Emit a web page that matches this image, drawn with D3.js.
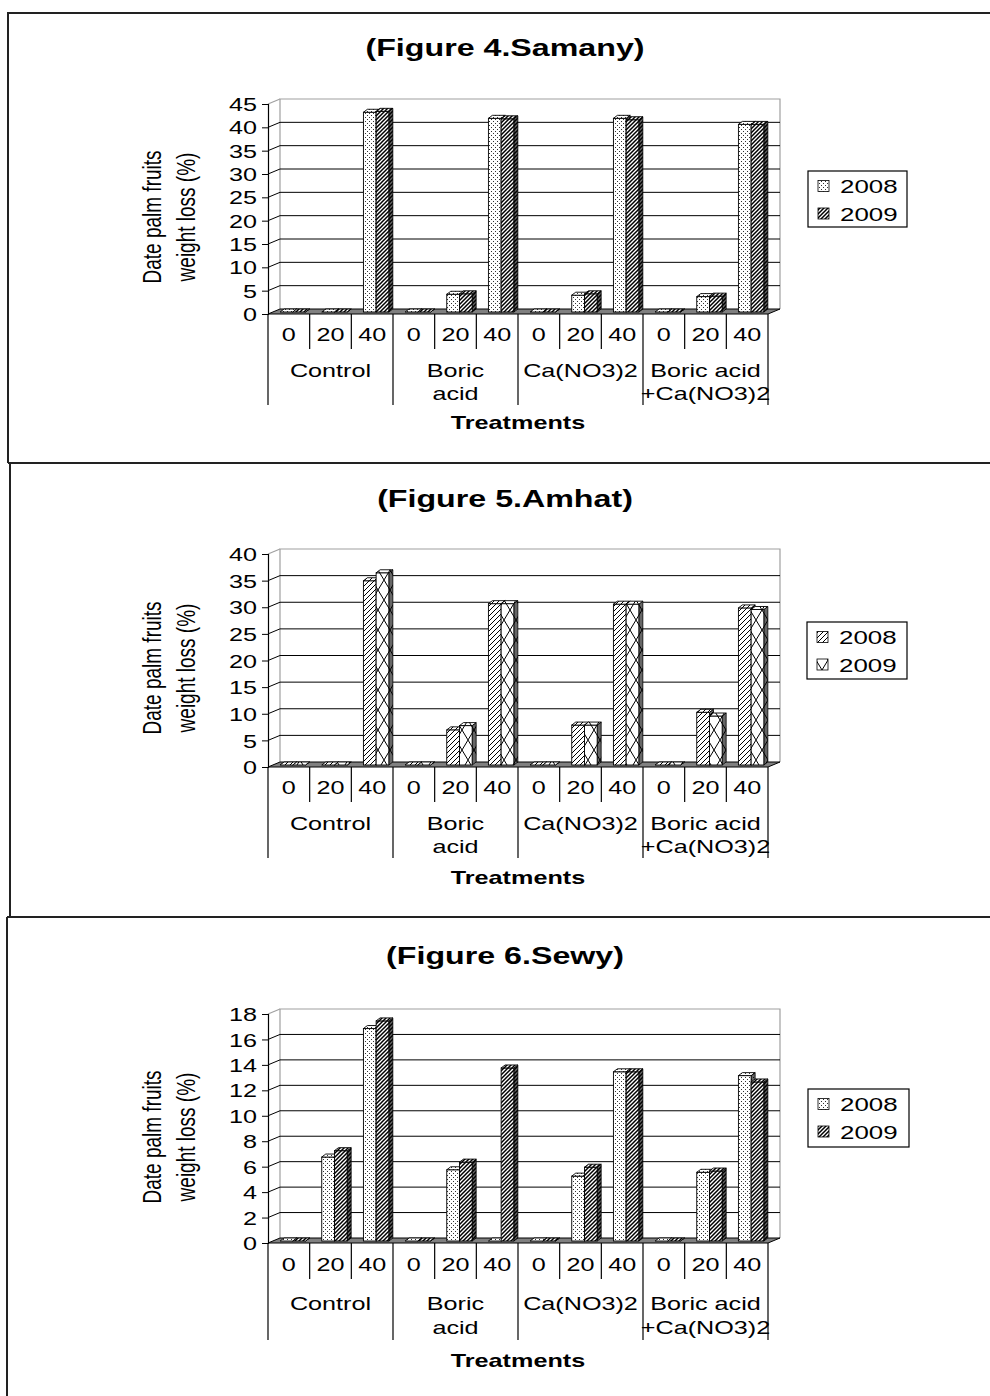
<!DOCTYPE html>
<html>
<head>
<meta charset="utf-8">
<script src="https://cdn.jsdelivr.net/npm/d3@7"></script>
<style>
  html, body { margin: 0; padding: 0; background: #fff; }
  svg { display: block; }
  text { font-family: "Liberation Sans", Arial, sans-serif; fill: #000; }
</style>
</head>
<body>
<svg id="fig" width="990" height="1396"></svg>
<script>
// ---- data ----
const levels = ["0", "20", "40"];
const treatments = [["Control"], ["Boric", "acid"], ["Ca(NO3)2"], ["Boric acid", "+Ca(NO3)2"]];
const seriesNames = ["2008", "2009"];

// Figure 4 – Samany (12 bars per year: 4 treatments x 3 levels)
const samanyTicks = [0, 5, 10, 15, 20, 25, 30, 35, 40, 45];
const samany2008 = [0, 0, 42.8, 0, 3.8, 41.5, 0, 3.6, 41.5, 0, 3.3, 40.2];
const samany2009 = [0, 0, 43.0, 0, 3.9, 41.4, 0, 3.9, 41.2, 0, 3.4, 40.2];

// Figure 5 – Amhat
const amhatTicks = [0, 5, 10, 15, 20, 25, 30, 35, 40];
const amhat2008 = [0, 0, 34.6, 0, 6.6, 30.3, 0, 7.5, 30.2, 0, 9.9, 29.5];
const amhat2009 = [0, 0, 36.1, 0, 7.4, 30.3, 0, 7.5, 30.2, 0, 9.2, 29.2];

// Figure 6 – Sewy
const sewyTicks = [0, 2, 4, 6, 8, 10, 12, 14, 16, 18];
const sewy2008 = [0, 6.6, 16.7, 0, 5.6, 0, 0, 5.1, 13.3, 0, 5.4, 13.0];
const sewy2009 = [0, 7.1, 17.3, 0, 6.2, 13.6, 0, 5.8, 13.3, 0, 5.5, 12.5];

// ---- drawing ----
const SX = 1.4;            // horizontal text stretch
const svg = d3.select("#fig");
const defs = svg.append("defs");

function pattern(id, w, h, draw) {
  const p = defs.append("pattern").attr("id", id)
    .attr("patternUnits", "userSpaceOnUse").attr("width", w).attr("height", h);
  p.append("rect").attr("width", w).attr("height", h).attr("fill", "#fff");
  draw(p);
}
pattern("dots", 4, 4, p => {
  p.append("rect").attr("x", 1).attr("y", 1).attr("width", 0.9).attr("height", 0.9).attr("fill", "#000");
  p.append("rect").attr("x", 3).attr("y", 3).attr("width", 0.9).attr("height", 0.9).attr("fill", "#000");
});
pattern("hatchDense", 4, 4, p => {
  p.append("path").attr("d", "M-1,1 L1,-1 M0,4 L4,0 M3,5 L5,3")
    .attr("stroke", "#000").attr("stroke-width", 1.5);
});
pattern("hatchLight", 5, 5, p => {
  p.append("path").attr("d", "M-1,1 L1,-1 M0,5 L5,0 M4,6 L6,4")
    .attr("stroke", "#000").attr("stroke-width", 1);
});
pattern("lattice", 12, 20, p => {
  p.append("path").attr("d", "M0,0 L12,20 M12,0 L0,20")
    .attr("stroke", "#000").attr("stroke-width", 1);
});

function stretchedText(g, x, y, str, opts = {}) {
  return g.append("text")
    .attr("transform", `translate(${x},${y}) scale(${SX},1)`)
    .attr("text-anchor", opts.anchor || "middle")
    .attr("dominant-baseline", "central")
    .attr("font-size", opts.size || 18)
    .attr("font-weight", opts.weight || "normal")
    .text(str);
}

const axisX = 268, axisRight = 768;
const DX = 12, DY = -5;          // wall depth
const BDX = 4, BDY = -3;         // bar depth
const BSHIFT = -2;               // bars sit midway into the floor

function drawChart(c) {
  const g = svg.append("g");
  const y = d3.scaleLinear().domain([0, c.max]).range([c.zeroY, c.topY]);
  const x = d3.scaleBand().domain(d3.range(12)).range([axisX, axisRight]);
  const bw = x.bandwidth();
  const xs = d3.scaleBand().domain(seriesNames).range([0.29 * bw, 0.9 * bw]);

  // title
  stretchedText(g, 505, c.titleY, c.title, { size: 23, weight: "bold" });

  // back wall
  g.append("path")
    .attr("d", `M${axisX + DX},${y(0) + DY} V${y(c.max) + DY} H${axisRight + DX} V${y(0) + DY}`)
    .attr("fill", "none").attr("stroke", "#a0a0a0").attr("stroke-width", 1.2);
  g.append("line")
    .attr("x1", axisX).attr("y1", y(c.max)).attr("x2", axisX + DX).attr("y2", y(c.max) + DY)
    .attr("stroke", "#a0a0a0").attr("stroke-width", 1.2);

  // gridlines across side wall and back wall
  g.append("g").selectAll("path")
    .data(c.ticks.filter(t => t > 0 && t < c.max))
    .join("path")
    .attr("d", t => `M${axisX},${y(t)} L${axisX + DX},${y(t) + DY} H${axisRight + DX}`)
    .attr("fill", "none").attr("stroke", "#000").attr("stroke-width", 1);

  // floor
  g.append("path")
    .attr("d", `M${axisX},${y(0)} H${axisRight} L${axisRight + DX},${y(0) + DY} H${axisX + DX} Z`)
    .attr("fill", "#808080").attr("stroke", "#000").attr("stroke-width", 1);

  // value axis
  const ax = g.append("g").attr("transform", `translate(${axisX},0)`)
    .call(d3.axisLeft(y).tickValues(c.ticks).tickSize(6).tickFormat(""));
  ax.select(".domain").attr("stroke", "#000").attr("stroke-width", 1.2);
  ax.selectAll(".tick line").attr("stroke", "#000");
  c.ticks.forEach(t => stretchedText(g, 257, y(t) + 1, String(t), { anchor: "end" }));

  // bars
  const bars = [];
  d3.range(12).forEach(i => {
    seriesNames.forEach((s, k) => {
      bars.push({ i, s, v: (k === 0 ? c.s2008 : c.s2009)[i], pat: k === 0 ? c.pat2008 : c.pat2009 });
    });
  });
  const bg = g.append("g");
  bars.forEach(b => {
    const x0 = x(b.i) + xs(b.s), x1 = x0 + xs.bandwidth();
    const yb = y(0) + BSHIFT, yt = y(b.v) + BSHIFT;
    const top = `M${x0},${yt} L${x0 + BDX},${yt + BDY} H${x1 + BDX} L${x1},${yt} Z`;
    const side = `M${x1},${yt} L${x1 + BDX},${yt + BDY} V${yb + BDY} L${x1},${yb} Z`;
    bg.append("path").attr("d", side).attr("fill", `url(#${b.pat})`).attr("stroke", "none");
    bg.append("path").attr("d", side).attr("fill", "#000").attr("fill-opacity", 0.6)
      .attr("stroke", "#000").attr("stroke-width", 0.8);
    if (yb - yt > 0.5) {
      bg.append("rect").attr("x", x0).attr("y", yt).attr("width", x1 - x0).attr("height", yb - yt)
        .attr("fill", `url(#${b.pat})`).attr("stroke", "#000").attr("stroke-width", 0.9);
    }
    bg.append("path").attr("d", top).attr("fill", `url(#${b.pat})`).attr("stroke", "#000").attr("stroke-width", 0.9);
  });

  // category table under the floor
  const tg = g.append("g").attr("stroke", "#000").attr("stroke-width", 1.2);
  d3.range(13).forEach(i => {
    const xx = i < 12 ? x(i) : axisRight;
    const isGroup = i % 3 === 0;
    tg.append("line").attr("x1", xx).attr("x2", xx)
      .attr("y1", y(0)).attr("y2", isGroup ? c.sepBottom : c.numY + 14);
  });
  d3.range(12).forEach(i => stretchedText(g, x(i) + bw / 2, c.numY, levels[i % 3]));
  treatments.forEach((lines, gi) => {
    const cx = x(gi * 3) + bw * 1.5;
    lines.forEach((ln, li) => stretchedText(g, cx, li === 0 ? c.grpY1 : c.grpY2, ln));
  });
  stretchedText(g, 518, c.treatY, "Treatments", { weight: "bold" });

  // y-axis title
  [["Date palm fruits", 152], ["weight loss (%)", 186]].forEach(([t, xx]) => {
    g.append("text")
      .attr("transform", `translate(${xx},${c.yTitleY}) scale(${SX},1) rotate(-90)`)
      .attr("text-anchor", "middle").attr("dominant-baseline", "central")
      .attr("font-size", 19).text(t);
  });

  // legend
  const L = c.legend;
  g.append("rect").attr("x", L.x).attr("y", L.y).attr("width", L.w).attr("height", L.h)
    .attr("fill", "#fff").attr("stroke", "#000").attr("stroke-width", 1.2);
  seriesNames.forEach((s, k) => {
    const cy = L.y + 15 + k * 27.5;
    g.append("rect").attr("x", L.x + 10).attr("y", cy - 5.5).attr("width", 11).attr("height", 11)
      .attr("fill", `url(#${k === 0 ? c.pat2008 : c.pat2009})`).attr("stroke", "#000").attr("stroke-width", 0.8);
    stretchedText(g, L.x + 32, cy + 1, s, { anchor: "start", size: 18.5 });
  });
}

// panel frames
const frame = svg.append("g").attr("fill", "none").attr("stroke", "#222").attr("stroke-width", 2);
frame.append("path").attr("d", "M990,13 H8 V463");
frame.append("path").attr("d", "M8,463 H990");
frame.append("path").attr("d", "M10,463 V917");
frame.append("path").attr("d", "M7,917 H990");
frame.append("path").attr("d", "M7,917 V1396");

drawChart({
  title: "(Figure 4.Samany)", titleY: 48, ticks: samanyTicks, max: 45,
  s2008: samany2008, s2009: samany2009, pat2008: "dots", pat2009: "hatchDense",
  topY: 104, zeroY: 314, numY: 335, grpY1: 371, grpY2: 394, sepBottom: 405, treatY: 423,
  yTitleY: 217, legend: { x: 808, y: 171, w: 99, h: 56 }
});
drawChart({
  title: "(Figure 5.Amhat)", titleY: 499, ticks: amhatTicks, max: 40,
  s2008: amhat2008, s2009: amhat2009, pat2008: "hatchLight", pat2009: "lattice",
  topY: 554, zeroY: 767, numY: 788, grpY1: 824, grpY2: 847, sepBottom: 858, treatY: 878,
  yTitleY: 668, legend: { x: 807, y: 622, w: 100, h: 57 }
});
drawChart({
  title: "(Figure 6.Sewy)", titleY: 956, ticks: sewyTicks, max: 18,
  s2008: sewy2008, s2009: sewy2009, pat2008: "dots", pat2009: "hatchDense",
  topY: 1014, zeroY: 1243, numY: 1265, grpY1: 1304, grpY2: 1328, sepBottom: 1340, treatY: 1361,
  yTitleY: 1137, legend: { x: 808, y: 1089, w: 101, h: 58 }
});
</script>
</body>
</html>
